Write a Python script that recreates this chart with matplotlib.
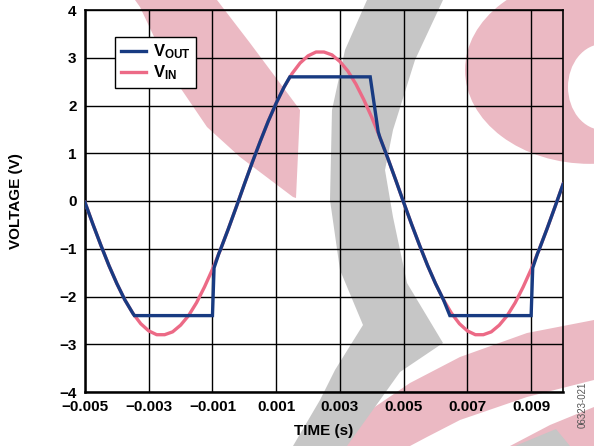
import matplotlib
matplotlib.use("Agg")
import matplotlib.pyplot as plt
from matplotlib.patches import Polygon, Circle, Ellipse
import numpy as np

# ---- data (time in s, voltage in V) ----
vin_t = [-0.005, -0.00475, -0.0045, -0.00425, -0.004, -0.00375, -0.0035, -0.00325,
         -0.003, -0.00275, -0.0025, -0.00225, -0.002, -0.00175, -0.0015, -0.00125,
         -0.001, -0.00075, -0.0005, -0.00025, 0.0, 0.00025, 0.0005, 0.00075, 0.001,
         0.00125, 0.0015, 0.00175, 0.002, 0.00225, 0.0025, 0.00275, 0.003, 0.00325,
         0.0035, 0.00375, 0.004, 0.00425, 0.0045, 0.00475, 0.005, 0.00525, 0.0055,
         0.00575, 0.006, 0.00625, 0.0065, 0.00675, 0.007, 0.00725, 0.0075, 0.00775,
         0.008, 0.00825, 0.0085, 0.00875, 0.009, 0.00925, 0.0095, 0.00975, 0.010]
vin_v = [-0.03, -0.49, -0.93, -1.35, -1.73, -2.07, -2.35, -2.57, -2.72, -2.80,
         -2.80, -2.74, -2.60, -2.40, -2.13, -1.80, -1.43, -1.02, -0.58, -0.12,
         0.35, 0.81, 1.25, 1.67, 2.05, 2.39, 2.67, 2.89, 3.04, 3.12, 3.12, 3.06,
         2.92, 2.72, 2.45, 2.12, 1.75, 1.34, 0.90, 0.44, -0.03,
         -0.49, -0.93, -1.35, -1.73, -2.07, -2.35, -2.57, -2.72, -2.80, -2.80,
         -2.74, -2.60, -2.40, -2.13, -1.80, -1.43, -1.02, -0.58, -0.12, 0.35]

vout_t = [-0.005, -0.00475, -0.0045, -0.00425, -0.004, -0.00375, -0.0035, -0.00345,
          -0.001, -0.00095, -0.0008, -0.00075, -0.0005, -0.00025, 0.0, 0.00025,
          0.0005, 0.00075, 0.001, 0.00125, 0.00143, 0.00395, 0.0042, 0.00425,
          0.0045, 0.00475, 0.005, 0.00525, 0.0055, 0.00575, 0.006, 0.00625,
          0.00645, 0.009, 0.00905, 0.0092, 0.00925, 0.0095, 0.00975, 0.010]
vout_v = [-0.03, -0.49, -0.93, -1.35, -1.73, -2.07, -2.35, -2.40,
          -2.40, -1.40, -1.10, -1.02, -0.58, -0.12, 0.35, 0.81,
          1.25, 1.67, 2.05, 2.39, 2.60, 2.60, 1.45, 1.34,
          0.90, 0.44, -0.03, -0.49, -0.93, -1.35, -1.73, -2.07,
          -2.40, -2.40, -1.40, -1.10, -1.02, -0.58, -0.12, 0.35]

xticks = [-0.005, -0.003, -0.001, 0.001, 0.003, 0.005, 0.007, 0.009]
xticklabels = ['\u22120.005', '\u22120.003', '\u22120.001', '0.001', '0.003',
               '0.005', '0.007', '0.009']
yticks = [-4, -3, -2, -1, 0, 1, 2, 3, 4]
yticklabels = ['\u22124', '\u22123', '\u22122', '\u22121', '0', '1', '2', '3', '4']

# ---- style ----
plt.rcParams['font.family'] = ['Liberation Sans', 'DejaVu Sans']
plt.rcParams['font.weight'] = 'bold'
plt.rcParams['mathtext.fontset'] = 'custom'
plt.rcParams['mathtext.rm'] = 'Liberation Sans:bold'
plt.rcParams['mathtext.it'] = 'Liberation Sans:bold'
plt.rcParams['mathtext.bf'] = 'Liberation Sans:bold'

W, H = 594, 446
fig = plt.figure(figsize=(W / 100, H / 100), dpi=100, facecolor='white')

# background watermark (logo swirl), figure pixel coords, y from top
def px(pts):
    return [(x / W, 1 - y / H) for x, y in pts]

pink_wm = '#ebb9c3'
gray_wm = '#c6c6c6'
tr = fig.transFigure
fig.patches.append(Polygon(px([(135, 0), (217, 0), (250, 43), (300, 110), (296, 198),
                               (293, 197), (240, 157), (207, 127), (173, 77), (140, 7)]),
                           closed=True, fc=pink_wm, ec='none', transform=tr, zorder=-2))
fig.patches.append(Circle((590 / W, 1 - 70 / H), 125 / W, fc=pink_wm, ec='none',
                          transform=tr, zorder=-2))
fig.patches.append(Ellipse((603 / W, 1 - 87 / H), 70 / W, 86 / H, fc='white', ec='none',
                           transform=tr, zorder=-2))
fig.patches.append(Polygon(px([(594, 320), (527, 333), (460, 357), (410, 383), (360, 417),
                               (327, 446), (410, 446), (427, 437), (460, 420), (527, 397),
                               (594, 380)]),
                           closed=True, fc=pink_wm, ec='none', transform=tr, zorder=-2))
fig.patches.append(Polygon(px([(594, 407), (550, 425), (510, 446), (594, 446)]),
                           closed=True, fc=pink_wm, ec='none', transform=tr, zorder=-2))
fig.patches.append(Polygon(px([(367, 0), (443, 0), (415, 60), (393, 130), (385, 170),
                               (393, 217), (407, 283), (443, 343), (400, 372), (380, 400),
                               (347, 446), (293, 446), (320, 400), (335, 370), (363, 325),
                               (340, 270), (330, 200), (332, 110), (345, 50)]),
                           closed=True, fc=gray_wm, ec='none', transform=tr, zorder=-2))
fig.patches.append(Polygon(px([(515, 446), (556, 429), (570, 446)]),
                           closed=True, fc=gray_wm, ec='none', transform=tr, zorder=-2))

ax = fig.add_axes([85 / W, 1 - 392 / H, (563 - 85) / W, (392 - 10) / H])
ax.set_facecolor('none')

l_in, = ax.plot(vin_t, vin_v, color='#ec6a86', lw=2.4, solid_joinstyle='round', zorder=3)
l_out, = ax.plot(vout_t, vout_v, color='#183b82', lw=2.4, solid_joinstyle='miter', zorder=4)

ax.set_xlim(-0.005, 0.010)
ax.set_ylim(-4, 4)
ax.set_xticks(xticks)
ax.set_xticklabels(xticklabels)
ax.set_yticks(yticks)
ax.set_yticklabels(yticklabels)
ax.tick_params(length=0, labelsize=11, pad=6)
ax.grid(True, color='black', lw=1.0)
ax.set_axisbelow(True)
for s in ax.spines.values():
    s.set_linewidth(1.2)
ax.spines['left'].set_linewidth(1.8)
ax.spines['bottom'].set_linewidth(1.8)

ax.set_xlabel('TIME (s)', fontsize=11, fontweight='bold', labelpad=7)
ax.set_ylabel('VOLTAGE (V)', fontsize=11, fontweight='bold', labelpad=26)

leg = ax.legend([l_out, l_in], ['V$_{\\mathrm{OUT}}$', 'V$_{\\mathrm{IN}}$'],
                loc='upper left', bbox_to_anchor=(0.063, 0.93), fontsize=12,
                frameon=True, fancybox=False, framealpha=1, edgecolor='black',
                handlelength=1.5, handletextpad=0.4, borderpad=0.35,
                labelspacing=0.15, borderaxespad=0)
leg.get_frame().set_linewidth(1.0)
leg.set_zorder(6)

fig.text(583 / W, 1 - 405 / H, '06323-021', rotation=90, fontsize=7,
         fontweight='normal', color='#555555', ha='center', va='center')

fig.savefig('out.png', dpi=100, facecolor='white')
